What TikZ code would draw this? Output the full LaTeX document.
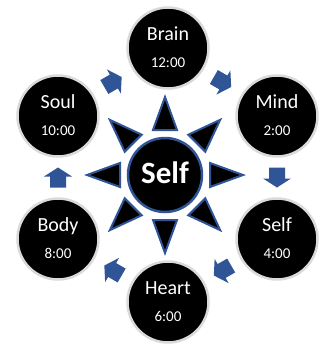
\documentclass[tikz,border=0pt]{standalone}
\usepackage{fontspec}
\setmainfont{Carlito}
\usetikzlibrary{calc}
\definecolor{ablue}{RGB}{47,85,151}
\definecolor{ringgray}{RGB}{218,218,218}
\tikzset{
  outer/.style={circle, fill=black, draw=ringgray, line width=2.5pt, minimum size=81pt, inner sep=0pt},
  hub/.style={circle, fill=black, draw=ablue, line width=2.5pt, minimum size=74pt, inner sep=0pt},
  nametext/.style={text=white, anchor=base, inner sep=0pt, font=\fontsize{20}{24}\selectfont},
  timetext/.style={text=white, anchor=base, inner sep=0pt, font=\fontsize{15}{18}\selectfont},
  hubtext/.style={text=white, anchor=base, inner sep=0pt, font=\fontsize{31}{36}\selectfont\bfseries},
  ray/.style={fill=black, draw=ablue, line width=2pt, line join=miter},
  blockarrow/.pic={\fill[ablue] (-10,-8) -- (1,-8) -- (1,-14) -- (10,0) -- (1,14) -- (1,8) -- (-10,8) -- cycle;}
}
\begin{document}
\begin{tikzpicture}[x=1pt,y=-1pt]
\useasboundingbox (0,0) rectangle (323,346);
% outer circles
\node[outer] (brain) at (168,48) {};
\node[outer] (mind)  at (277,116) {};
\node[outer] (selfb) at (277,239) {};
\node[outer] (heart) at (168,302) {};
\node[outer] (body)  at (58,239) {};
\node[outer] (soul)  at (58,116) {};
% labels
\foreach \n/\a/\b in {brain/Brain/12:00, mind/Mind/2:00, selfb/Self/4:00, heart/Heart/6:00, body/Body/8:00, soul/Soul/10:00}{
  \node[nametext] (\n-name) at ($(\n)+(0,-7.5)$) {\a};
  \node[timetext] (\n-time) at ($(\n)+(0,19.5)$) {\b};
}
% cycle arrows
\pic[rotate=30]  at ($(soul)!0.5!(brain)$) {blockarrow};
\pic[rotate=-30] at ($(brain)!0.5!(mind)$) {blockarrow};
\pic[rotate=-90] at ($(mind)!0.5!(selfb)$) {blockarrow};
\pic[rotate=210] at ($(selfb)!0.5!(heart)$) {blockarrow};
\pic[rotate=150] at ($(heart)!0.5!(body)$) {blockarrow};
\pic[rotate=90]  at ($(body)!0.5!(soul)$) {blockarrow};
% hub
\node[hub] (self) at (165,175) {};
\foreach \a in {0,45,...,315}{
  \draw[ray, shift={(self)}, rotate=\a] (78,0) -- (45,12) -- (45,-12) -- cycle;
}
\node[hubtext] (self-text) at ($(self)+(0,8.5)$) {Self};
\end{tikzpicture}
\end{document}
